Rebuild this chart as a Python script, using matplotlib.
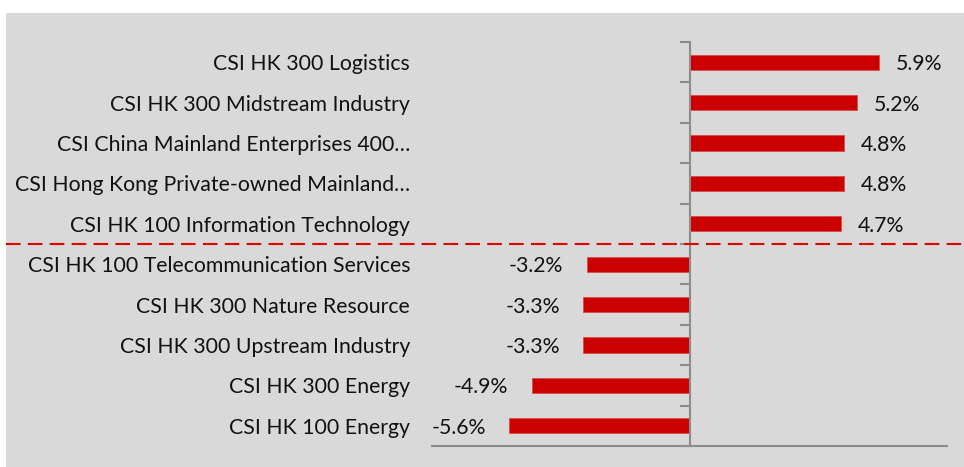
import matplotlib
matplotlib.use("Agg")
import matplotlib.pyplot as plt
import matplotlib.transforms as mtransforms
from matplotlib.patches import Rectangle

categories = [
    "CSI HK 300 Logistics",
    "CSI HK 300 Midstream Industry",
    "CSI China Mainland Enterprises 400…",
    "CSI Hong Kong Private-owned Mainland…",
    "CSI HK 100 Information Technology",
    "CSI HK 100 Telecommunication Services",
    "CSI HK 300 Nature Resource",
    "CSI HK 300 Upstream Industry",
    "CSI HK 300 Energy",
    "CSI HK 100 Energy",
]
values = [5.9, 5.2, 4.8, 4.8, 4.7, -3.2, -3.3, -3.3, -4.9, -5.6]
value_labels = ["5.9%", "5.2%", "4.8%", "4.8%", "4.7%", "-3.2%", "-3.3%", "-3.3%", "-4.9%", "-5.6%"]

plt.rcParams['font.family'] = ['Lato', 'DejaVu Sans']

W, H = 964, 467
fig = plt.figure(figsize=(W/100, H/100), dpi=100, facecolor='white')
bg = '#d9d9d9'
fig.patches.append(Rectangle((6/W, 0), 1 - 6/W, 1 - 13/H, transform=fig.transFigure,
                             facecolor=bg, edgecolor='none', zorder=-10))

ax = fig.add_axes([432/W, (H-446)/H, (947-432)/W, (446-42)/H])
ax.set_facecolor('none')

n = len(categories)
ypos = list(range(n))
ax.barh(ypos, values, height=0.38, color='#cc0000', edgecolor='#d84a4a', linewidth=0.6, zorder=3)
ax.set_xlim(-8, 8)
ax.set_ylim(n - 0.5, -0.5)

axis_color = '#8c8c8c'
for s in ['top', 'right']:
    ax.spines[s].set_visible(False)
ax.spines['left'].set_position(('data', 0))
ax.spines['left'].set_color(axis_color)
ax.spines['left'].set_linewidth(1.5)
ax.spines['left'].set_zorder(4)
ax.spines['bottom'].set_color(axis_color)
ax.spines['bottom'].set_linewidth(1.5)
ax.set_xticks([])
ax.set_yticks([i - 0.5 for i in range(n + 1)])
ax.set_yticklabels([])
ax.tick_params(axis='y', direction='out', length=7, width=1.5, color=axis_color)

fs = 15.3
trans = mtransforms.blended_transform_factory(fig.transFigure, ax.transData)
for i, (c, v, lab) in enumerate(zip(categories, values, value_labels)):
    ax.text(410/W, i, c, transform=trans, ha='right', va='center_baseline', fontsize=fs, color='#111111')
    if v >= 0:
        ax.annotate(lab, (v, i), xytext=(12, 0), textcoords='offset points',
                    ha='left', va='center_baseline', fontsize=fs, color='#111111')
    else:
        ax.annotate(lab, (v, i), xytext=(-17, 0), textcoords='offset points',
                    ha='right', va='center_baseline', fontsize=fs, color='#111111')

# dashed separator across the whole panel
ax.plot([6/W, 1], [4.5, 4.5], transform=trans, color='#e00000', linewidth=1.5,
        dashes=(7, 3.5), clip_on=False, zorder=5)

fig.savefig('out.png', dpi=100, facecolor='white')
